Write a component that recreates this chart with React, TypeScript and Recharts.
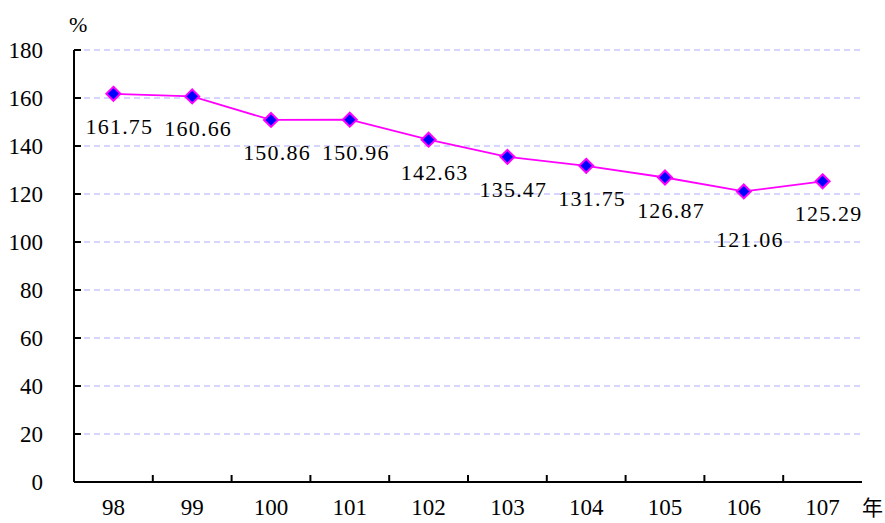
import { CartesianGrid, LabelList, Line, LineChart, XAxis, YAxis } from "recharts";

const years = ["98", "99", "100", "101", "102", "103", "104", "105", "106", "107"];
const ratios = [161.75, 160.66, 150.86, 150.96, 142.63, 135.47, 131.75, 126.87, 121.06, 125.29];
const yTicks = [0, 20, 40, 60, 80, 100, 120, 140, 160, 180];

const data = years.map((y, i) => ({ year: y, value: ratios[i] }));

const FONT = "Liberation Serif";
const BAND = 78.8;

const Diamond = (props: any) => {
  const { cx, cy } = props;
  if (cx == null || cy == null) return null;
  const r = 7;
  return (
    <polygon
      points={`${cx},${cy - r} ${cx + r},${cy} ${cx},${cy + r} ${cx - r},${cy}`}
      fill="#0000ff"
      stroke="#ff00ff"
      strokeWidth={2}
    />
  );
};

const YTick = (props: any) => {
  const { x, y, payload } = props;
  return (
    <g>
      {payload.value !== 0 && <line x1={x} x2={x + 7} y1={y} y2={y} stroke="#000" strokeWidth={2} />}
      <text x={x - 31} y={y + 8} textAnchor="end" style={{ fontSize: 23, fontFamily: FONT }} fill="#000">
        {payload.value}
      </text>
    </g>
  );
};

const XTick = (props: any) => {
  const { x, y, payload, index } = props;
  return (
    <g>
      {index < years.length - 1 && (
        <line x1={x + BAND / 2} x2={x + BAND / 2} y1={y} y2={y - 7} stroke="#000" strokeWidth={2} />
      )}
      <text x={x} y={y + 33} textAnchor="middle" style={{ fontSize: 23, fontFamily: FONT }} fill="#000">
        {payload.value}
      </text>
    </g>
  );
};

const ValueLabel = (props: any) => {
  const { x, y, value, index } = props;
  const dy = index === 8 ? 56 : 40;
  return (
    <text
      x={x + 6}
      y={y + dy}
      textAnchor="middle"
      style={{ fontSize: 22, fontFamily: FONT, letterSpacing: 1.2 }}
      fill="#000"
    >
      {Number(value).toFixed(2)}
    </text>
  );
};

export default function App() {
  return (
    <div style={{ position: "absolute", left: 0, top: 0, width: 885, height: 523, background: "#fff" }}>
      <LineChart width={885} height={523} data={data} margin={{ top: 50, right: 23, bottom: 40, left: 73 }}>
        <CartesianGrid
          vertical={false}
          stroke="#c8c8ff"
          strokeWidth={1.5}
          strokeDasharray="6 4"
          horizontalValues={yTicks.filter((t) => t > 0)}
        />
        <XAxis
          dataKey="year"
          height={1}
          padding={{ left: BAND / 2, right: BAND / 2 }}
          tickLine={false}
          tickSize={0}
          tickMargin={0}
          interval={0}
          tick={<XTick />}
          axisLine={{ stroke: "#000", strokeWidth: 2 }}
        />
        <YAxis
          width={1}
          domain={[0, 180]}
          ticks={yTicks}
          interval={0}
          tickLine={false}
          tickSize={0}
          tickMargin={0}
          tick={<YTick />}
          axisLine={{ stroke: "#000", strokeWidth: 2 }}
        />
        <Line
          dataKey="value"
          stroke="#ff00ff"
          strokeWidth={1.8}
          dot={<Diamond />}
          activeDot={false}
          isAnimationActive={false}
        >
          <LabelList dataKey="value" content={<ValueLabel />} />
        </Line>
        <text x={69} y={32} style={{ fontSize: 22, fontFamily: FONT }} fill="#000">%</text>
        <text x={862} y={515} style={{ fontSize: 21, fontFamily: "Noto Sans CJK TC" }} fill="#000">年</text>
      </LineChart>
    </div>
  );
}
